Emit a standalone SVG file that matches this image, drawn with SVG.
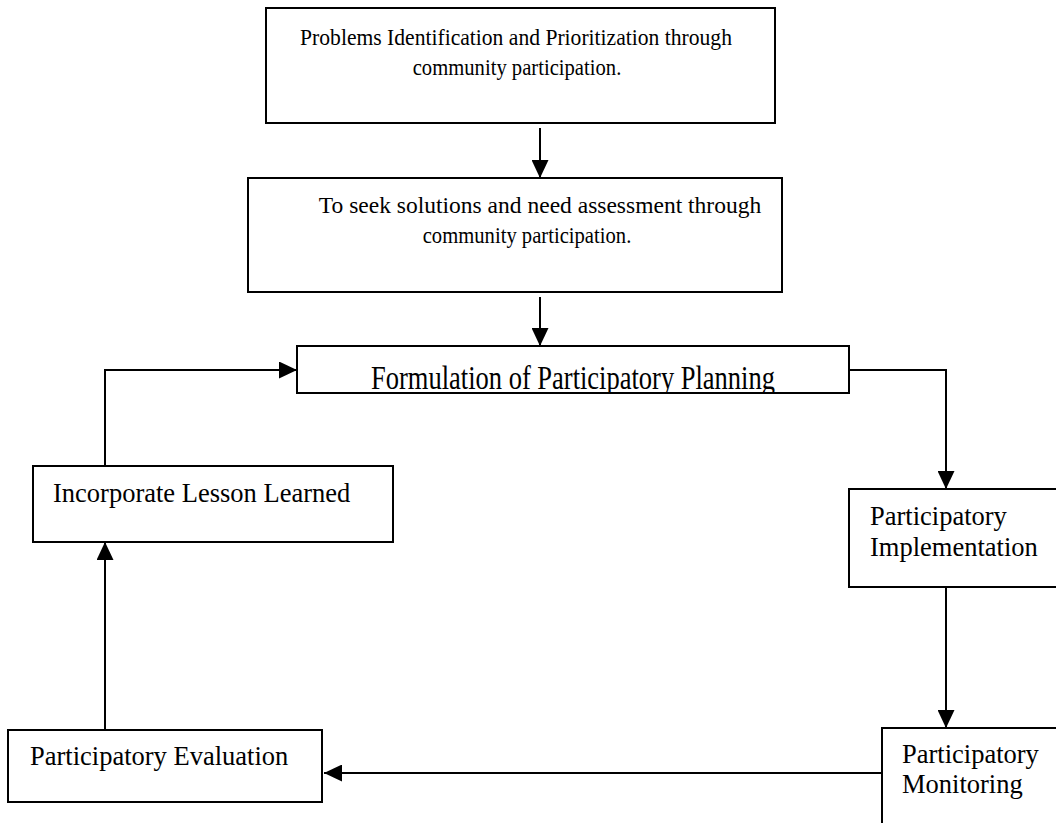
<svg xmlns="http://www.w3.org/2000/svg" width="1056" height="823" viewBox="0 0 1056 823">
<style>
.box{fill:#fff;stroke:#000;stroke-width:2}
.t{font-family:"Liberation Serif","Times New Roman",serif;font-size:26.5px;fill:#000}
.m{font-size:24px}
.c{text-anchor:middle}
.ln{fill:none;stroke:#000;stroke-width:2}
</style>
<defs>
<marker id="ah" viewBox="0 0 18 17" refX="18" refY="8.5" markerWidth="18" markerHeight="17" markerUnits="userSpaceOnUse" orient="auto">
<path d="M0,0 L18,8.5 L0,17 Z" fill="#000"/>
</marker>
<clipPath id="fclip"><rect x="298" y="347" width="550" height="45"/></clipPath>
</defs>
<rect width="1056" height="823" fill="#fff"/>
<g id="connectors">
<line class="ln" x1="540" y1="128" x2="540" y2="178" marker-end="url(#ah)"/>
<line class="ln" x1="540" y1="297" x2="540" y2="346" marker-end="url(#ah)"/>
<polyline class="ln" points="849,370 946,370 946,489" marker-end="url(#ah)"/>
<line class="ln" x1="946" y1="587" x2="946" y2="728" marker-end="url(#ah)"/>
<line class="ln" x1="882" y1="773" x2="324" y2="773" marker-end="url(#ah)"/>
<line class="ln" x1="105" y1="730" x2="105" y2="542" marker-end="url(#ah)"/>
<polyline class="ln" points="105,466 105,370 297,370" marker-end="url(#ah)"/>
</g>
<g id="n1">
<rect class="box" x="266" y="8" width="509" height="115"/>
<text class="t m c" transform="translate(516,45) scale(0.9,1)">Problems Identification and Prioritization through</text>
<text class="t m c" transform="translate(517,75) scale(0.86,1)">community participation.</text>
</g>
<g id="n2">
<rect class="box" x="248" y="178" width="534" height="114"/>
<text class="t m c" transform="translate(540,213) scale(0.98,1)">To seek solutions and need assessment through</text>
<text class="t m c" transform="translate(527,243) scale(0.86,1)">community participation.</text>
</g>
<g id="n3">
<rect class="box" x="297" y="346" width="552" height="47"/>
<g clip-path="url(#fclip)">
<text class="t c" transform="translate(573,389) scale(1,1.3)">Formulation of Participatory Planning</text>
</g>
</g>
<g id="n4">
<rect class="box" x="33" y="466" width="360" height="76"/>
<text class="t" x="53" y="502">Incorporate Lesson Learned</text>
</g>
<g id="n5">
<rect class="box" x="849" y="489" width="220" height="98"/>
<text class="t" x="870" y="525">Participatory</text>
<text class="t" x="870" y="556">Implementation</text>
</g>
<g id="n6">
<rect class="box" x="882" y="728" width="190" height="110"/>
<text class="t" x="902" y="763">Participatory</text>
<text class="t" x="902" y="793">Monitoring</text>
</g>
<g id="n7">
<rect class="box" x="8" y="730" width="314" height="72"/>
<text class="t" x="30" y="765">Participatory Evaluation</text>
</g>
</svg>
